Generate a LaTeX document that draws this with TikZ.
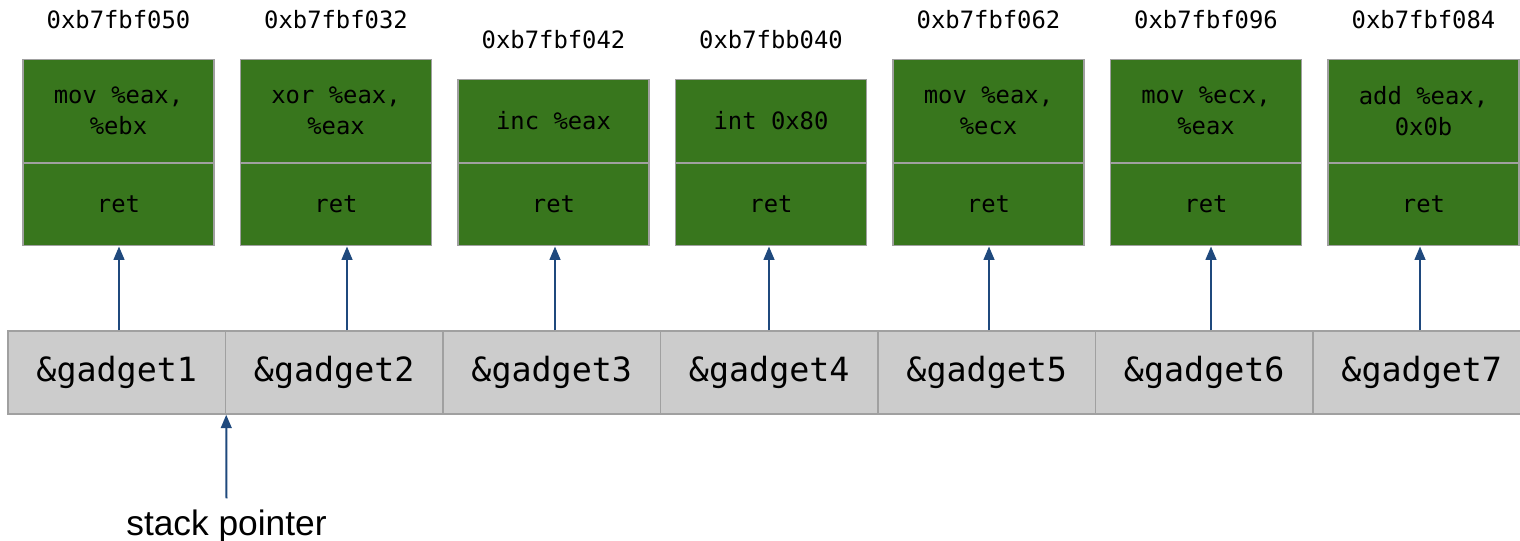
\documentclass[tikz,border=0pt]{standalone}
\usepackage{fontspec}
\setmainfont{Liberation Sans}
\setmonofont{DejaVu Sans Mono}
\usetikzlibrary{positioning,arrows.meta}
\definecolor{gadgetgreen}{HTML}{38761D}
\definecolor{slotgray}{HTML}{CCCCCC}
\definecolor{edgegray}{HTML}{A0A0A0}
\definecolor{ptrblue}{RGB}{31,73,125}

\begin{document}
\begin{tikzpicture}[x=0.75pt,y=-0.75pt,
    gbox/.style={draw=edgegray,line width=1.1pt,fill=gadgetgreen,
      minimum width=143.25pt,inner sep=0pt,align=center,
      font=\ttfamily\fontsize{17.9}{23.3}\selectfont},
    slot/.style={draw=edgegray,line width=1.1pt,fill=slotgray,
      minimum width=163.1pt,minimum height=62.25pt,inner sep=0pt,
      font=\ttfamily\fontsize{25}{30}\selectfont},
    addr/.style={inner sep=0pt,font=\ttfamily\fontsize{17.9}{22}\selectfont},
    ptr/.style={ptrblue,line width=1.5pt,-{Triangle[width=8pt,length=10pt]}}]
   \useasboundingbox (0,0) rectangle (1520,541);
   % gadgets in memory
   \foreach \i/\h/\ins/\adr/\ax in {
     1/77.25pt/{mov \%eax,\\\%ebx}/0xb7fbf050/119,
     2/77.25pt/{xor \%eax,\\\%eax}/0xb7fbf032/347,
     3/62.25pt/{inc \%eax}/0xb7fbf042/555,
     4/62.25pt/{int 0x80}/0xb7fbb040/769,
     5/77.25pt/{mov \%eax,\\\%ecx}/0xb7fbf062/989,
     6/77.25pt/{mov \%ecx,\\\%eax}/0xb7fbf096/1211,
     7/77.25pt/{add \%eax,\\0x0b}/0xb7fbf084/1420} {
    \node[gbox,minimum height=\h,anchor=south] (ins\i)
      at ({118.5+217.5*(\i-1)},163) {\ins};
    \node[gbox,minimum height=61.5pt,anchor=north] (ret\i) at (ins\i.south) {ret};
    \node[addr,above=22pt of ins\i] (addr\i) {\adr};
    % stack slots
    \node[slot] (cell\i) at ({8+217.5*(\i-0.5)},372.5) {\&gadget\i};
    \draw[ptr] (cell\i.north -| \ax,0) -- (ret\i.south -| \ax,0);
   }
   \node[inner xsep=0pt,inner ysep=8pt,anchor=base,
     font=\fontsize{26.5}{30}\selectfont] (sp) at (226.5,535) {stack pointer};
   \draw[ptr] (sp.north) -- (cell1.south east);
\end{tikzpicture}
\end{document}
